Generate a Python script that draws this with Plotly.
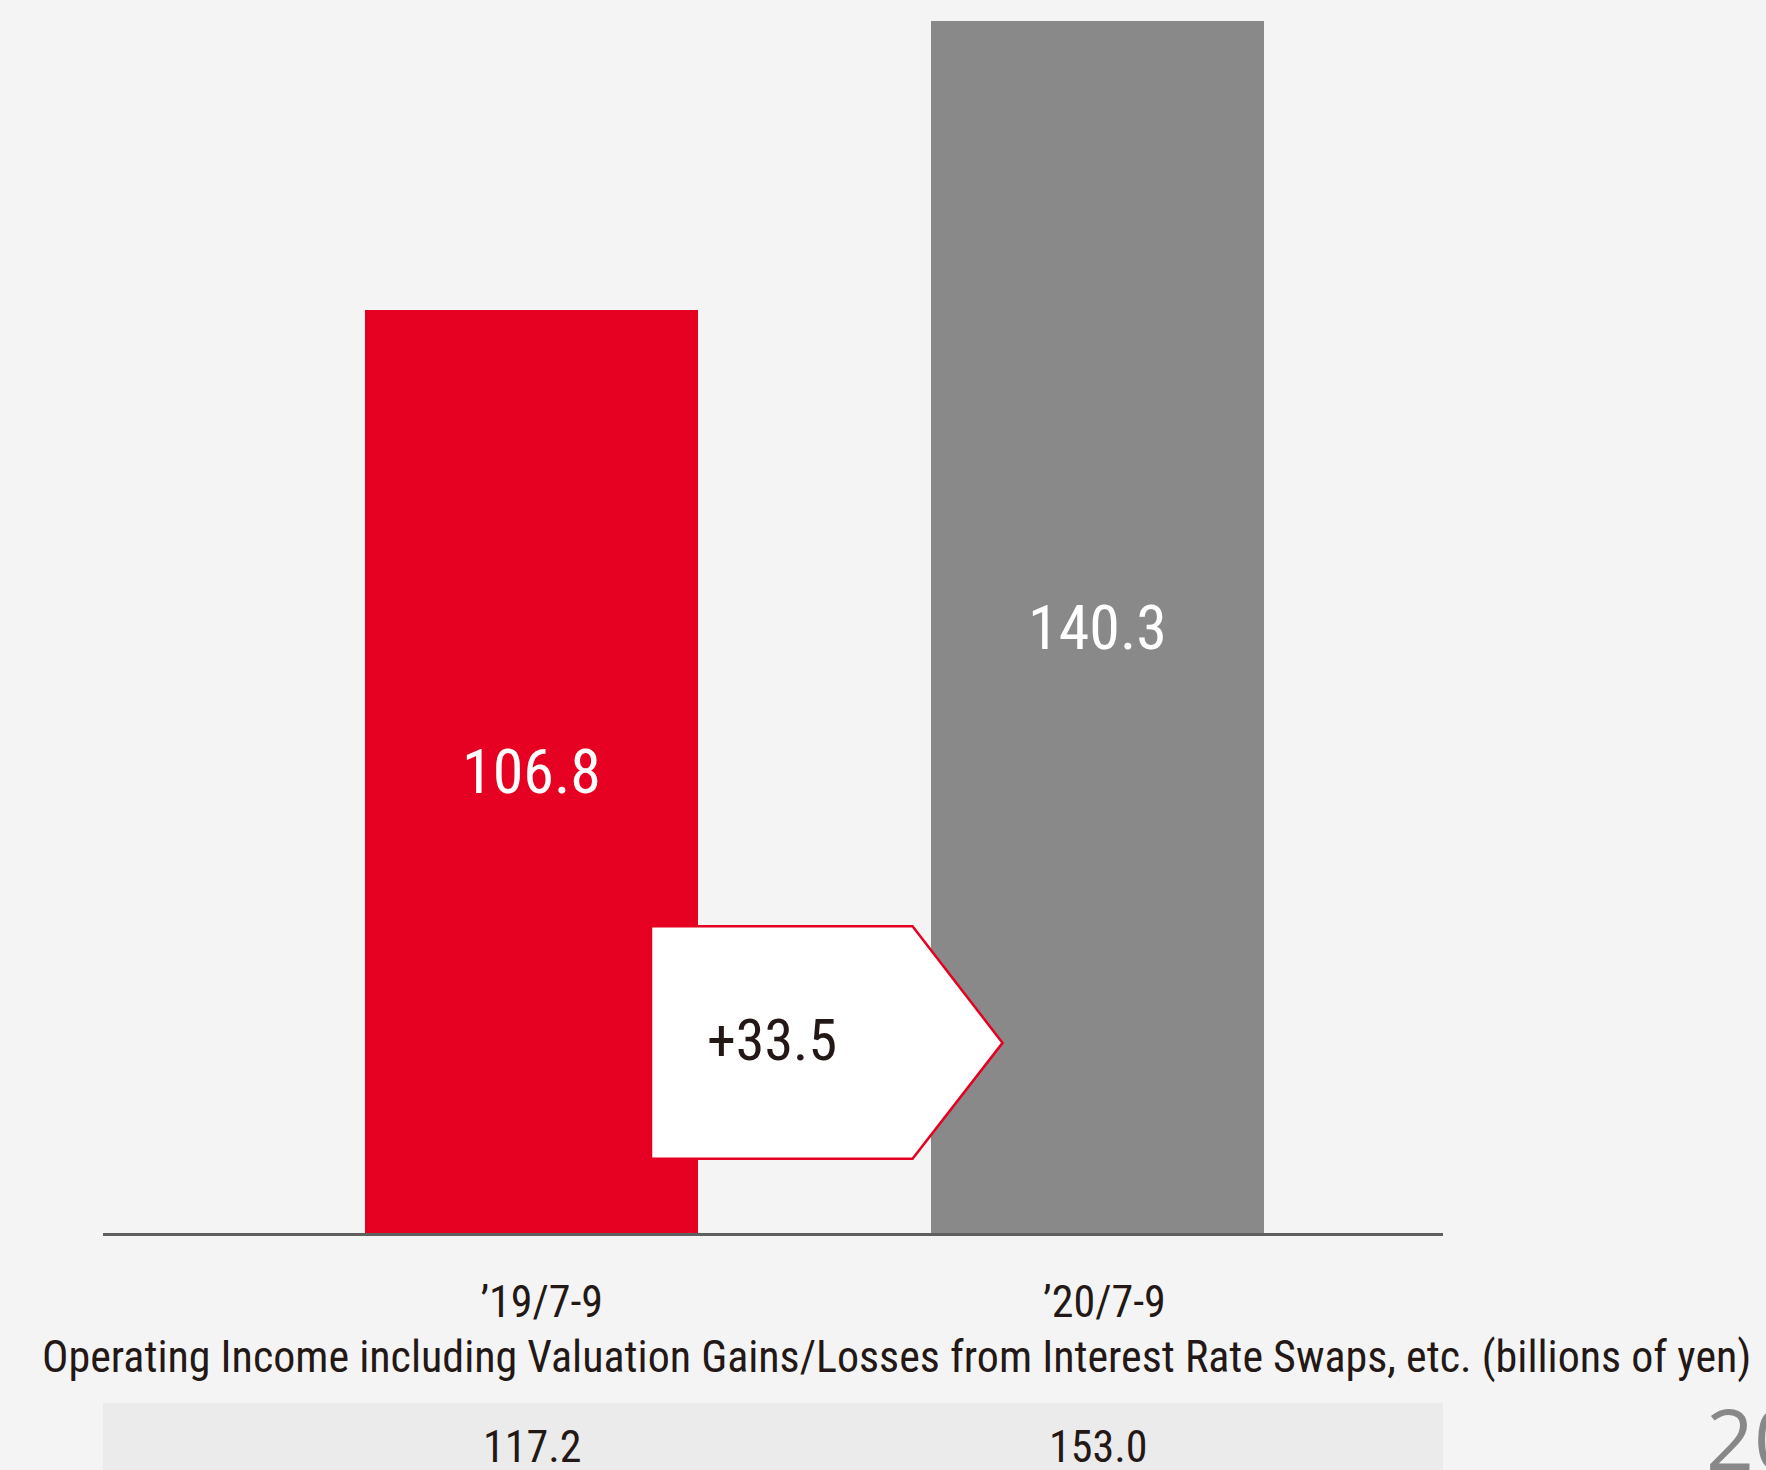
import plotly.graph_objects as go

categories = ["’19/7-9", "’20/7-9"]
values = [106.8, 140.3]
bar_colors = ["#e60021", "#898989"]
value_labels = ["106.8", "140.3"]
diff_label = "+33.5"
table_values = ["117.2", "153.0"]
metric_title = "Operating Income including Valuation Gains/Losses from Interest Rate Swaps, etc. (billions of yen)"
page_number = "20"

FONT = "Liberation Sans Narrow, Arial Narrow, Roboto Condensed, sans-serif"
BG = "#f4f4f4"

W, H = 1766, 1470
ML, MR, MT, MB = 103, 323, 0, 237

fig = go.Figure()
fig.add_trace(go.Bar(
    x=[0, 1], y=values, width=0.588,
    marker=dict(color=bar_colors, line=dict(width=0)),
    text=value_labels, textposition="inside", insidetextanchor="middle",
    textfont=dict(family=FONT, size=62, color="white"),
    textangle=0, hoverinfo="skip",
))

# arrow box showing the difference
fig.add_shape(type="path",
              path="M 0.211 35.5 L 0.673 35.5 L 0.832 22.0 L 0.673 8.6 L 0.211 8.6 Z",
              xref="x", yref="y", fillcolor="white",
              line=dict(color="#e60021", width=2.5), layer="above")
fig.add_annotation(x=0.425, y=22.3, xref="x", yref="y", text=diff_label, showarrow=False,
                   xanchor="center", yanchor="middle",
                   font=dict(family=FONT, size=58, color="#231815"))

plot_h = H - MT - MB
plot_w = W - ML - MR
# table band
fig.add_shape(type="rect", xref="paper", yref="paper",
              x0=0, x1=1, y0=-(1470 - 1233) / plot_h, y1=-(1403 - 1233) / plot_h,
              fillcolor="#ebebeb", line=dict(width=0), layer="below")
for i, tv in enumerate(table_values):
    fig.add_annotation(x=i, y=-(1447 - 1233) / plot_h, xref="x", yref="paper", text=tv,
                       showarrow=False, xanchor="center", yanchor="middle",
                       font=dict(family=FONT, size=44, color="#231815"))

fig.add_annotation(x=(897 - ML) / plot_w, y=-(1357 - 1233) / plot_h, xref="paper", yref="paper",
                   text=metric_title, showarrow=False, xanchor="center", yanchor="middle",
                   font=dict(family=FONT, size=44, color="#231815"))

fig.add_annotation(x=(1704 - ML) / plot_w, y=-(1437 - 1233) / plot_h, xref="paper", yref="paper",
                   xanchor="left", yanchor="middle", text=page_number, showarrow=False,
                   font=dict(family="Open Sans, sans-serif", size=84, color="#888888"))

fig.update_layout(
    width=W, height=H, margin=dict(l=ML, r=MR, t=MT, b=MB, pad=0),
    paper_bgcolor=BG, plot_bgcolor=BG, showlegend=False, bargap=0,
    xaxis=dict(range=[-0.757, 1.610], tickvals=[0.018, 1.012], ticktext=categories,
               showgrid=False, zeroline=False, showline=True, linecolor="#5f5f5f", linewidth=3,
               ticks="", tickfont=dict(family=FONT, size=44, color="#231815"),
               ticklabelstandoff=28, fixedrange=True),
    yaxis=dict(range=[0, 1233 / 8.642], visible=False, fixedrange=True),
)

fig.write_html("out.html")
